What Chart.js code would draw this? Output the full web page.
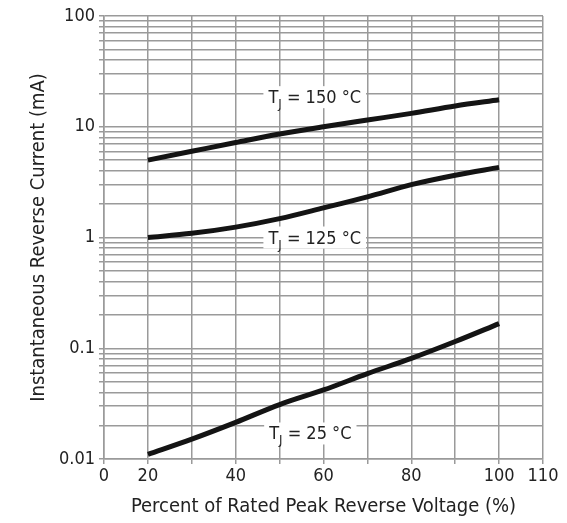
<!DOCTYPE html>
<html>
<head>
<meta charset="utf-8">
<script src="https://cdn.jsdelivr.net/npm/chart.js@4.4.1/dist/chart.umd.min.js"></script>
<style>
  html, body { margin: 0; padding: 0; background: #fff; }
  #wrap { width: 567px; height: 523px; }
</style>
</head>
<body>
<div id="wrap"><canvas id="revChart"></canvas></div>
<script>
// percent of rated peak reverse voltage
var voltage = [20, 30, 40, 50, 60, 70, 80, 90, 100];
// instantaneous reverse current, mA
var current150 = [5.0, 6.0, 7.2, 8.6, 10.0, 11.5, 13.2, 15.4, 17.5];
var current125 = [1.0, 1.09, 1.24, 1.48, 1.85, 2.33, 3.0, 3.65, 4.3];
var current25 = [0.011, 0.0151, 0.0214, 0.031, 0.042, 0.059, 0.081, 0.115, 0.167];

var xGrid = [0, 20, 30, 40, 50, 60, 70, 80, 90, 100, 110];
var xTickLabels = [0, 20, 40, 60, 80, 100, 110];
var yDecades = [0.01, 0.1, 1, 10, 100];
var yTickLabels = ['0.01', '0.1', '1', '10', '100'];

var tempLabels = ['150', '125', '25'];
var tempLabelX = [58, 58, 57];
var tempLabelY = [18.5, 1.0, 0.017];

var fontFam = "'Liberation Sans Narrow', 'DejaVu Sans Condensed', 'Arial Narrow', sans-serif";
var gridGray = '#9a9a9a';

// the 0..20 part of the x axis is squeezed into one grid step
function toAxis(v) { return v <= 20 ? v / 2 : v - 10; }
function fromAxis(t) { return Math.round(t <= 10 ? t * 2 : t + 10); }

function points(ys) {
  var out = [];
  for (var i in voltage) out.push({ x: toAxis(voltage[i]), y: ys[i] });
  return out;
}

var yGrid = [];
for (var d = 0; d < yDecades.length - 1; d++) {
  for (var m = 1; m < 10; m++) yGrid.push(parseFloat((yDecades[d] * m).toPrecision(3)));
}
yGrid.push(yDecades[yDecades.length - 1]);

function curve(ys) {
  return {
    data: points(ys),
    borderColor: '#141414',
    borderWidth: 5,
    pointRadius: 0,
    fill: false,
    cubicInterpolationMode: 'monotone',
    borderCapStyle: 'butt'
  };
}

var tempLabelPlugin = {
  id: 'tempLabels',
  afterDatasetsDraw: function(chart) {
    var ctx = chart.ctx, xs = chart.scales.x, ys = chart.scales.y;
    var big = '18px ' + fontFam, small = '13px ' + fontFam;
    for (var i in tempLabels) {
      var cx = xs.getPixelForValue(toAxis(tempLabelX[i]));
      var cy = ys.getPixelForValue(tempLabelY[i]);
      var rest = ' = ' + tempLabels[i] + ' \u00B0C';
      ctx.save();
      ctx.font = big;
      var wT = ctx.measureText('T').width, wRest = ctx.measureText(rest).width;
      ctx.font = small;
      var wJ = ctx.measureText('J').width;
      var w = wT + wJ + wRest;
      var x0 = cx - w / 2;
      ctx.fillStyle = '#fff';
      ctx.fillRect(x0 - 5, cy - 11, w + 10, 22);
      ctx.fillStyle = '#222';
      ctx.textBaseline = 'alphabetic';
      ctx.font = big;
      ctx.fillText('T', x0, cy + 6);
      ctx.font = small;
      ctx.fillText('J', x0 + wT, cy + 11);
      ctx.font = big;
      ctx.fillText(rest, x0 + wT + wJ, cy + 6);
      ctx.restore();
    }
  }
};

Chart.defaults.font.family = fontFam;
Chart.defaults.color = '#222';

var config = {
  type: 'line',
  data: {
    datasets: [curve(current150), curve(current125), curve(current25)]
  },
  options: {
    responsive: true,
    maintainAspectRatio: false,
    animation: false,
    layout: { padding: { top: 16, right: 24, left: 0, bottom: 0 } },
    plugins: { legend: { display: false }, tooltip: { enabled: false } },
    scales: {
      x: {
        type: 'linear',
        min: 0,
        max: 100,
        afterBuildTicks: function(s) {
          s.ticks = xGrid.map(function(v) { return { value: toAxis(v) }; });
        },
        afterFit: function(s) { s.height = 64; },
        ticks: {
          autoSkip: false,
          maxRotation: 0,
          padding: 2,
          font: { size: 18 },
          callback: function(val) {
            var v = fromAxis(val);
            return xTickLabels.indexOf(v) >= 0 ? String(v) : '';
          }
        },
        grid: { color: gridGray, lineWidth: 1.5, tickLength: 5 },
        border: { color: gridGray, width: 1.5 },
        title: {
          display: true,
          text: 'Percent of Rated Peak Reverse Voltage (%)',
          font: { size: 20 },
          padding: { top: 0, bottom: 4 }
        }
      },
      y: {
        type: 'logarithmic',
        min: 0.01,
        max: 100,
        afterBuildTicks: function(s) {
          s.ticks = yGrid.map(function(v) { return { value: v }; });
        },
        afterFit: function(s) { s.width = 104; },
        ticks: {
          autoSkip: false,
          padding: 4,
          font: { size: 18 },
          callback: function(val) {
            for (var k in yDecades) {
              if (Math.abs(val - yDecades[k]) < yDecades[k] * 1e-6) return yTickLabels[k];
            }
            return '';
          }
        },
        grid: { color: gridGray, lineWidth: 1.5, tickLength: 5 },
        border: { color: gridGray, width: 1.5 },
        title: {
          display: true,
          text: 'Instantaneous Reverse Current (mA)',
          font: { size: 20 },
          padding: { top: 27, bottom: 0 }
        }
      }
    }
  },
  plugins: [tempLabelPlugin]
};

var myChart = new Chart(document.getElementById('revChart'), config);
</script>
</body>
</html>
